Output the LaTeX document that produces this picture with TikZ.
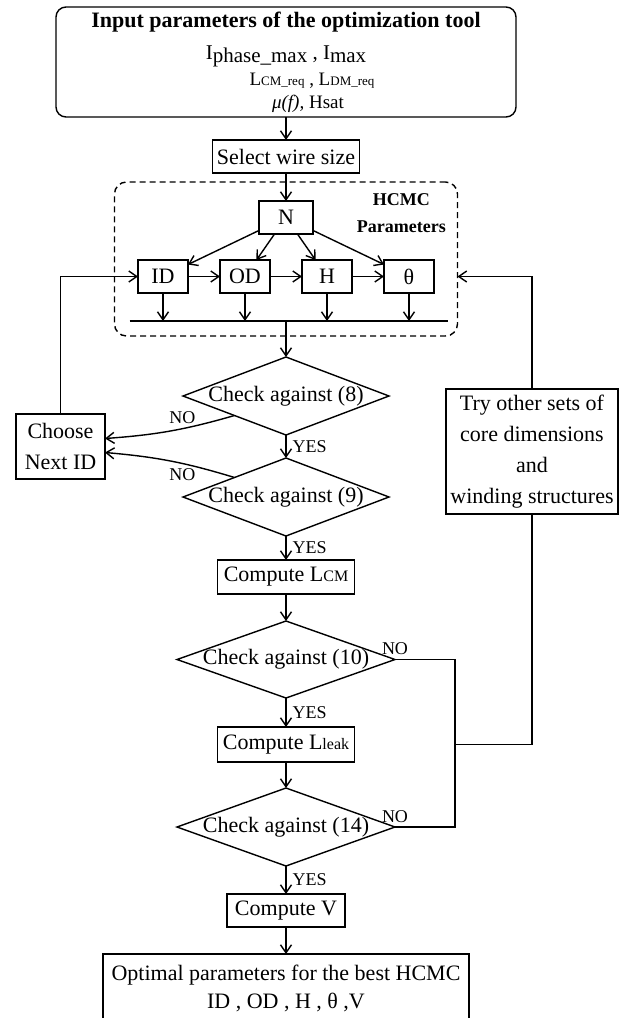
\documentclass[tikz,border=0pt]{standalone}
\usepackage{fontspec}
\setmainfont{Liberation Serif}
\usetikzlibrary{arrows.meta,positioning,shapes.geometric,calc}

\newcommand{\sm}[1]{{\fontsize{6.5}{7}\selectfont #1}}
\newcommand{\chk}[1]{\makebox[0pt]{Check against (#1)}}

\begin{document}
\begin{tikzpicture}[-,>={Straight Barb[length=4pt,width=5.5pt]},line width=0.7pt,
                    font=\fontsize{11}{13}\selectfont,
                    box/.style={draw,rectangle,inner sep=1pt,outer sep=0pt,minimum height=16.5pt},
                    par/.style={box,minimum width=25pt},
                    check/.style={draw,diamond,inner sep=0pt,outer sep=0pt,minimum width=103pt,minimum height=39pt},
                    lbl/.style={font=\fontsize{9}{10}\selectfont,inner sep=2pt}]
  \useasboundingbox (0,0) rectangle (312pt,-509pt);

  \node[box,rounded corners=5pt,minimum width=230pt,minimum height=55pt,align=center]
        (input) at (143pt,-31pt)
        {{\fontsize{11}{11}\selectfont\bfseries Input parameters of the optimization tool}\\[3pt]
         {\fontsize{10.5}{10}\selectfont I\raisebox{-1.5pt}{phase\_max} , I\raisebox{-1.5pt}{max}}\\
         {\fontsize{9.5}{9}\selectfont\hspace*{26pt}L\sm{CM\_req} , L\sm{DM\_req}}\\[-1.5pt]
         {\fontsize{9.5}{9}\selectfont\hspace*{22pt}\textit{μ(f),} Hsat}};
  \node[box,minimum width=73.5pt] (select) [below=11.5pt of input] {Select wire size};

  % HCMC parameters block
  \node[draw,dash pattern=on 3pt off 2pt,rounded corners=6pt,outer sep=0pt,
        minimum width=171.5pt,minimum height=77pt] (hcmc) [below=4.5pt of select] {};
  \node[box,minimum width=27pt] (N) [below=9.5pt of hcmc.north] {N};
  \node[par] (OD) [below=13pt of N,xshift=-20.5pt] {OD};
  \node[par] (H)  [below=13pt of N,xshift=20.5pt]  {H};
  \node[par] (ID) [left=16pt of OD]  {ID};
  \node[par] (TH) [right=16pt of H]  {θ};
  \node[lbl,font=\fontsize{9}{13.5}\selectfont\bfseries,align=center,anchor=north east]
        (hlabel) at ($(hcmc.north east)+(-3.5pt,-3.5pt)$) {HCMC\\Parameters};
  \coordinate (busL) at ($(ID.south)+(-16.75pt,-14pt)$);
  \coordinate (busR) at ($(TH.south)+(19.25pt,-14pt)$);
  \coordinate (busM) at (N |- busL);

  % checks
  \node[check] (C8) [below=18pt of busM] {\chk{8}};
  \node[check] (C9) [below=11.5pt of C8] {\chk{9}};
  \node[box,minimum width=68.5pt,minimum height=17pt] (LCM) [below=12pt of C9] {Compute L{\fontsize{8}{8}\selectfont CM}};
  \node[check,minimum width=109pt,minimum height=38.5pt] (C10) [below=13.5pt of LCM] {\chk{10}};
  \node[box,minimum width=68.5pt,minimum height=17.5pt] (leak) [below=14.5pt of C10] {Compute L{\fontsize{8}{8}\selectfont leak}};
  \node[check,minimum width=109pt] (C14) [below=13pt of leak] {\chk{14}};
  \node[box,minimum width=59pt] (V) [below=14pt of C14] {Compute V};
  \node[box,minimum width=183pt,minimum height=34pt,align=center,font=\fontsize{11}{14}\selectfont]
        (out) [below=13.5pt of V] {Optimal parameters for the best HCMC\\ID , OD , H , θ ,V};

  % side boxes
  \coordinate (mid) at ($(C8.south)!0.5!(C9.north)$);
  \node[box,minimum width=44.5pt,minimum height=32.5pt,align=center,font=\fontsize{11}{15.5}\selectfont]
        (choose) [left=90.5pt of mid] {Choose\\Next ID};
  \node[box,minimum width=86pt,minimum height=62.5pt,align=center,font=\fontsize{11}{15.5}\selectfont]
        (try) [right=80pt of mid,yshift=-2.5pt] {Try other sets of\\core dimensions\\and\\winding structures};

  \draw[->] (input) -- (select);
  \draw[->] (select) -- (N);
  \foreach \p in {ID,OD,H,TH} {
    \draw[->] (N) -- (\p);
    \draw[->] (\p) -- (\p |- busL);
  }
  \draw[->] (ID) -- (OD);
  \draw[->] (OD) -- (H);
  \draw[->] (H) -- (TH);
  \draw (busL) -- (busR);

  \draw[->] (busM) -- (C8);
  \draw[->] (C8) -- node[lbl,right=1pt] (yes8) {YES} (C9);
  \draw[->] (C9) -- node[lbl,right=1pt] (yes9) {YES} (LCM);
  \draw[->] (LCM) -- (C10);
  \draw[->] (C10) -- node[lbl,right=1pt] (yes10) {YES} (leak);
  \draw[->] (leak) -- (C14);
  \draw[->] (C14) -- node[lbl,right=1pt] (yes14) {YES} (V);
  \draw[->] (V) -- (out);

  \draw[->] (C8.south west) to[bend left=6] node[lbl,above,pos=0.4] (no8) {NO} ($(choose.east)+(0,4pt)$);
  \draw[->] (C9.north west) to[bend right=6] node[lbl,below,pos=0.4] (no9) {NO} ($(choose.east)+(0,-3pt)$);
  \draw[->] (choose) |- (ID);

  \node[lbl,above] (no10) at (C10.east) {NO};
  \node[lbl,above] (no14) at (C14.east) {NO};
  \draw (C10.east) -- ++(30pt,0) coordinate (nr) |- (C14.east);
  \draw (try.south) |- (nr |- leak);
  \draw[->] (try.north) |- (hcmc.east |- TH);
\end{tikzpicture}
\end{document}
